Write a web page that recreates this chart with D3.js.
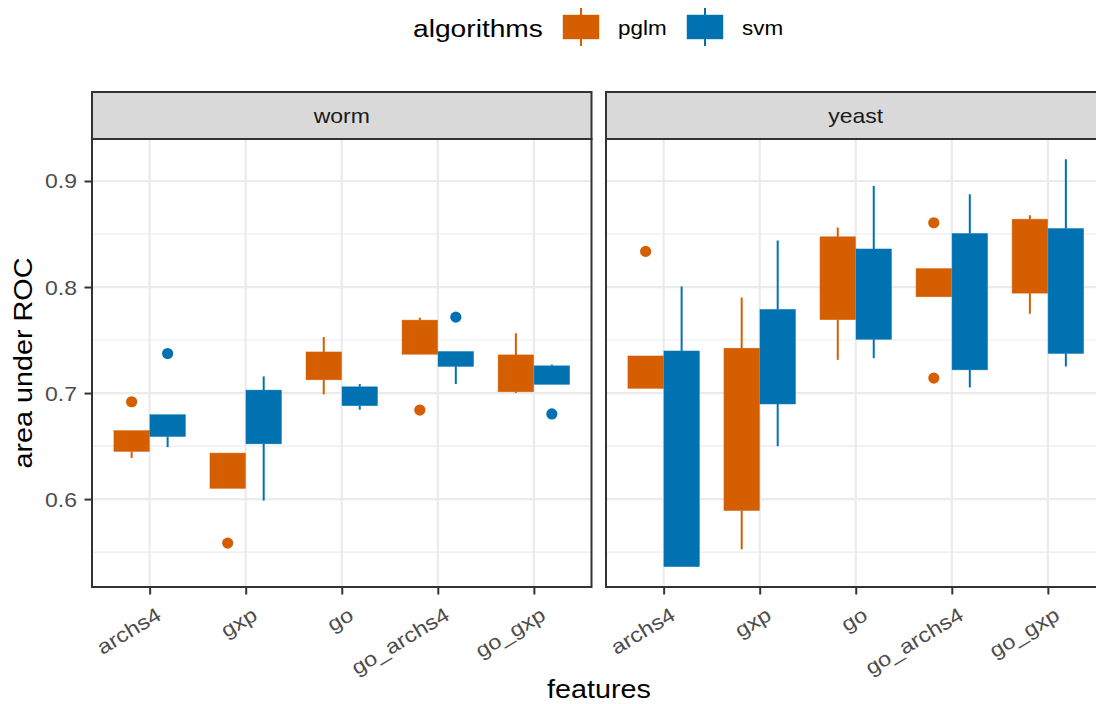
<!DOCTYPE html>
<html>
<head>
<meta charset="utf-8">
<script src="https://cdn.jsdelivr.net/npm/d3@7"></script>
<style>
  html, body { margin: 0; padding: 0; background: #fff; }
  svg { display: block; font-family: "Liberation Sans", Arial, sans-serif; }
</style>
</head>
<body>
<svg id="chart" width="1096" height="704"></svg>
<script>
// ---- data ----
const features = ["archs4", "gxp", "go", "go_archs4", "go_gxp"];
const species = ["worm", "yeast"];
const algorithms = ["pglm", "svm"];
const algoColors = ["#D55E00", "#0072B2"];
const yTicks = [0.6, 0.7, 0.8, 0.9];
const yMinorTicks = [0.55, 0.65, 0.75, 0.85];

// per feature: [lower whisker, Q1, Q3, upper whisker]
const wormPglm = [
  [0.6387, 0.6449, 0.6646, 0.6646],
  [0.6101, 0.6101, 0.6434, 0.6434],
  [0.6988, 0.7125, 0.7388, 0.7529],
  [0.7366, 0.7366, 0.7688, 0.7711],
  [0.7000, 0.7012, 0.7360, 0.7563]
];
const wormPglmOutliers = [[0.6918], [0.5585], [], [0.6840], []];

const wormSvm = [
  [0.6490, 0.6590, 0.6796, 0.6796],
  [0.5986, 0.6521, 0.7028, 0.7157],
  [0.6843, 0.6881, 0.7059, 0.7085],
  [0.7085, 0.7251, 0.7392, 0.7392],
  [0.7082, 0.7082, 0.7257, 0.7270]
];
const wormSvmOutliers = [[0.7373], [], [], [0.7716], [0.6803]];

const yeastPglm = [
  [0.7044, 0.7044, 0.7350, 0.7350],
  [0.5526, 0.5892, 0.7423, 0.7901],
  [0.7313, 0.7692, 0.8474, 0.8562],
  [0.7908, 0.7908, 0.8174, 0.8174],
  [0.7748, 0.7942, 0.8640, 0.8678]
];
const yeastPglmOutliers = [[0.8336], [], [], [0.8606, 0.7141], []];

const yeastSvm = [
  [0.5363, 0.5363, 0.7397, 0.8005],
  [0.6499, 0.6897, 0.7789, 0.8439],
  [0.7329, 0.7507, 0.8359, 0.8953],
  [0.7053, 0.7219, 0.8505, 0.8875],
  [0.7251, 0.7373, 0.8552, 0.9204]
];
const yeastSvmOutliers = [[], [], [], [], []];

// ---- build table ----
const statsBySpecies = {
  worm: [[wormPglm, wormPglmOutliers], [wormSvm, wormSvmOutliers]],
  yeast: [[yeastPglm, yeastPglmOutliers], [yeastSvm, yeastSvmOutliers]]
};
const boxes = [];
species.forEach(sp => {
  algorithms.forEach((alg, ai) => {
    const [st, outs] = statsBySpecies[sp][ai];
    features.forEach((f, fi) => {
      boxes.push({species: sp, algo: alg, ai, feature: f,
        lo: st[fi][0], q1: st[fi][1], q3: st[fi][2], hi: st[fi][3], outliers: outs[fi]});
    });
  });
});

// ---- layout ----
const SX = 1.15; // glyph width stretch
const svg = d3.select("#chart");
const panelTop = 139, panelBottom = 587;
const stripTop = 92;
const panelX = {worm: [92, 591.5], yeast: [606, 1105.5]};

function addText(parent, x, y, str, size, fill, anchor, extra) {
  return parent.append("text")
    .attr("transform", `translate(${x},${y}) ${extra || ""} scale(${SX},1)`)
    .attr("text-anchor", anchor || "start")
    .attr("font-size", size).attr("fill", fill).text(str);
}

let allVals = [];
boxes.forEach(b => { allVals.push(b.lo, b.hi, ...b.outliers); });
const [vmin, vmax] = d3.extent(allVals);
const pad = (vmax - vmin) * 0.05;
const y = d3.scaleLinear().domain([vmin - pad, vmax + pad]).range([panelBottom, panelTop]);

const boxW = 35.5;
const dodge = d3.scaleBand().domain(algorithms).range([-36, 36]);
const color = d3.scaleOrdinal().domain(algorithms).range(algoColors);

species.forEach(sp => {
  const [x0, x1] = panelX[sp];
  const x = d3.scalePoint().domain(features).range([x0, x1]).padding(0.6);
  const g = svg.append("g");

  const clipId = "clip-" + sp;
  svg.append("clipPath").attr("id", clipId)
    .append("rect").attr("x", x0).attr("y", panelTop).attr("width", x1 - x0).attr("height", panelBottom - panelTop);

  // grid
  const grid = g.append("g").attr("clip-path", `url(#${clipId})`);
  grid.selectAll(".ymin").data(yMinorTicks).join("line")
    .attr("x1", x0).attr("x2", x1).attr("y1", d => y(d)).attr("y2", d => y(d))
    .attr("stroke", "#ebebeb").attr("stroke-width", 1.1);
  grid.selectAll(".ymaj").data(yTicks).join("line")
    .attr("x1", x0).attr("x2", x1).attr("y1", d => y(d)).attr("y2", d => y(d))
    .attr("stroke", "#ebebeb").attr("stroke-width", 2.2);
  grid.selectAll(".xmaj").data(features).join("line")
    .attr("x1", d => x(d)).attr("x2", d => x(d)).attr("y1", panelTop).attr("y2", panelBottom)
    .attr("stroke", "#ebebeb").attr("stroke-width", 2.2);

  // boxes
  const marks = g.append("g").attr("clip-path", `url(#${clipId})`);
  const data = boxes.filter(b => b.species === sp);
  data.forEach(b => {
    const cx = x(b.feature) + dodge(b.algo) + dodge.bandwidth() / 2;
    const c = color(b.algo);
    marks.append("line").attr("x1", cx).attr("x2", cx).attr("y1", y(b.hi)).attr("y2", y(b.q3))
      .attr("stroke", c).attr("stroke-width", 2);
    marks.append("line").attr("x1", cx).attr("x2", cx).attr("y1", y(b.q1)).attr("y2", y(b.lo))
      .attr("stroke", c).attr("stroke-width", 2);
    marks.append("rect").attr("x", cx - boxW / 2).attr("width", boxW)
      .attr("y", y(b.q3)).attr("height", Math.max(0, y(b.q1) - y(b.q3)))
      .attr("fill", c).attr("stroke", c).attr("stroke-width", 0.6).attr("stroke-opacity", 0.7);
    b.outliers.forEach(o => {
      marks.append("circle").attr("cx", cx).attr("cy", y(o)).attr("r", 5.6).attr("fill", c);
    });
  });

  // panel border
  g.append("rect").attr("x", x0).attr("y", panelTop).attr("width", x1 - x0).attr("height", panelBottom - panelTop)
    .attr("fill", "none").attr("stroke", "#333333").attr("stroke-width", 2);

  // strip
  g.append("rect").attr("x", x0).attr("y", stripTop).attr("width", x1 - x0).attr("height", panelTop - stripTop)
    .attr("fill", "#d9d9d9").attr("stroke", "#333333").attr("stroke-width", 2);
  addText(g, (x0 + x1) / 2, 123, sp, 20, "#1a1a1a", "middle");

  // x axis
  const xAxis = g.append("g").attr("transform", `translate(0,${panelBottom})`)
    .call(d3.axisBottom(x).tickSize(7.5).tickPadding(0));
  xAxis.select(".domain").remove();
  xAxis.selectAll(".tick line").attr("stroke", "#333333").attr("stroke-width", 2);
  xAxis.selectAll(".tick text").remove();
  xAxis.selectAll(".tick").each(function(d) {
    addText(d3.select(this), 5, 19, d, 20.5, "#4d4d4d", "end", "rotate(-31)")
      .attr("dominant-baseline", "hanging").attr("font-family", "Liberation Sans, Arial, sans-serif");
  });

  // y axis on left panel
  if (sp === "worm") {
    const yAxis = g.append("g").attr("transform", `translate(${x0},0)`)
      .call(d3.axisLeft(y).tickValues(yTicks).tickFormat(d3.format(".1f")).tickSize(7.5).tickPadding(5));
    yAxis.select(".domain").remove();
    yAxis.selectAll(".tick line").attr("stroke", "#333333").attr("stroke-width", 2);
    yAxis.selectAll(".tick text").remove();
    yAxis.selectAll(".tick").each(function(d) {
      addText(d3.select(this), -15, 7, d3.format(".1f")(d), 20, "#4d4d4d", "end")
        .attr("font-family", "Liberation Sans, Arial, sans-serif");
    });
  }
});

// axis titles
addText(svg, 599, 698, "features", 25, "#000", "middle");
addText(svg, 32, (panelTop + panelBottom) / 2, "area under ROC", 25, "#000", "middle", "rotate(-90)");

// legend
const legend = svg.append("g");
addText(legend, 413, 36.5, "algorithms", 24.5, "#000", "start");
const legendX = [563, 687];
algorithms.forEach((a, i) => {
  const lx = legendX[i];
  const c = color(a);
  legend.append("line").attr("x1", lx + 18).attr("x2", lx + 18).attr("y1", 8).attr("y2", 46)
    .attr("stroke", c).attr("stroke-width", 2);
  legend.append("rect").attr("x", lx).attr("y", 15).attr("width", 36).attr("height", 24)
    .attr("fill", c).attr("stroke", c).attr("stroke-width", 0.6).attr("stroke-opacity", 0.7);
  addText(legend, lx + 55, 35, a, 19.5, "#000", "start");
});
</script>
</body>
</html>
